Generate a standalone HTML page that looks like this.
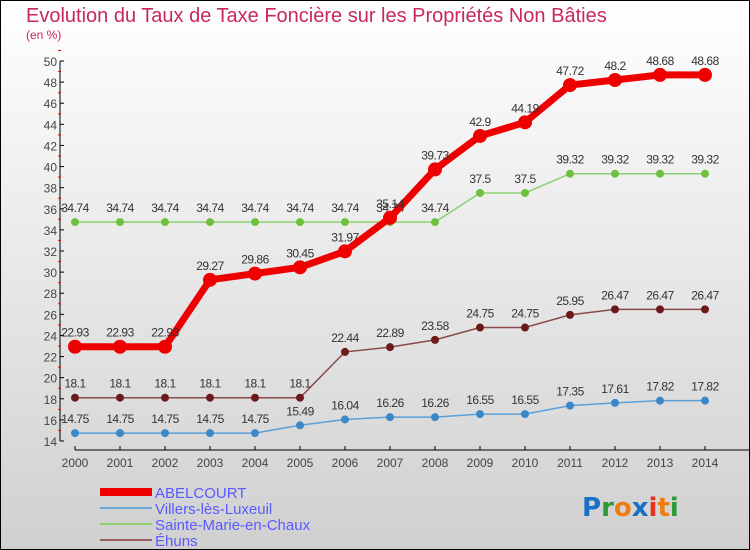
<!DOCTYPE html>
<html><head><meta charset="utf-8"><style>
body{margin:0;width:750px;height:550px;overflow:hidden}
svg{display:block;font-family:"Liberation Sans",sans-serif}
</style></head><body>
<svg id="c" width="750" height="550">
<defs><linearGradient id="bg" x1="0" y1="0" x2="0" y2="1"><stop offset="0" stop-color="#ffffff"/><stop offset="1" stop-color="#d0d0d0"/></linearGradient></defs>
<rect x="0.5" y="0.5" width="749" height="549" fill="url(#bg)" stroke="#000"/>
<text x="26" y="22" font-size="20" fill="#c8285a">Evolution du Taux de Taxe Foncière sur les Propriétés Non Bâties</text>
<text x="26" y="39" font-size="12" fill="#c8285a">(en %)</text>
<g id="axes"></g><g id="series"></g><g id="legend"></g>
<g font-size="26" font-weight="bold" font-family="DejaVu Sans,sans-serif">
<text x="582" y="516"><tspan fill="#1a6fc8">P</tspan><tspan fill="#2a9a3a">r</tspan><tspan fill="#f07c10">o</tspan><tspan fill="#1a6fc8">x</tspan><tspan fill="#e83020">i</tspan><tspan fill="#f07c10">t</tspan><tspan fill="#2a9a3a">i</tspan></text></g>
</svg>
<script>
const years=[2000,2001,2002,2003,2004,2005,2006,2007,2008,2009,2010,2011,2012,2013,2014];
const abelcourt=[22.93,22.93,22.93,29.27,29.86,30.45,31.97,35.14,39.73,42.9,44.19,47.72,48.2,48.68,48.68];
const villers=[14.75,14.75,14.75,14.75,14.75,15.49,16.04,16.26,16.26,16.55,16.55,17.35,17.61,17.82,17.82];
const sainte=[34.74,34.74,34.74,34.74,34.74,34.74,34.74,34.74,34.74,37.5,37.5,39.32,39.32,39.32,39.32];
const ehuns=[18.1,18.1,18.1,18.1,18.1,18.1,22.44,22.89,23.58,24.75,24.75,25.95,26.47,26.47,26.47];
const yTicks=[14,16,18,20,22,24,26,28,30,32,34,36,38,40,42,44,46,48,50];
const NS="http://www.w3.org/2000/svg";
const X=i=>75+i*45, Y=v=>441-(v-14)*(380/36);
function mk(t,a,p){const e=document.createElementNS(NS,t);for(const k in a)e.setAttribute(k,a[k]);p.appendChild(e);return e;}
const ax=document.getElementById('axes');
let yl=mk('line',{x1:60,y1:Y(50),x2:60,y2:Y(14),stroke:'#000'},ax);


yTicks.forEach(v=>{
 mk('line',{x1:60,y1:Y(v),x2:64,y2:Y(v),stroke:'#000'},ax);
 mk('line',{x1:58,y1:Y(v+1),x2:61,y2:Y(v+1),stroke:'#e00'},ax);
 const t=mk('text',{x:57,y:Y(v)+5,'font-size':12,fill:'#444','text-anchor':'end'},ax);t.textContent=v;
 
 
});
let xl=mk('line',{x1:75,y1:450,x2:750,y2:450,stroke:'#000'},ax);


years.forEach((y,i)=>{
 mk('line',{x1:X(i),y1:446,x2:X(i),y2:450,stroke:'#000'},ax);
 const t=mk('text',{x:X(i),y:467,'font-size':12,fill:'#444','text-anchor':'middle'},ax);t.textContent=y;
 
 
});
const sg=document.getElementById('series');
const defs=[
 {d:ehuns,c:'#8b4a4a',m:'#6b1a1a',w:1.5,r:4,n:'ehuns'},
 {d:villers,c:'#5aa0d8',m:'#3a88c8',w:1.5,r:4,n:'villers'},
 {d:sainte,c:'#8ad070',m:'#70c040',w:1.5,r:4,n:'sainte-marie'},
 {d:abelcourt,c:'#ee0000',m:'#ee0000',w:7,r:7,n:'abelcourt'}];
defs.forEach(s=>{
 const g=mk('g',{},sg);
 
 
 mk('polyline',{points:s.d.map((v,i)=>X(i)+','+Y(v)).join(' '),fill:'none',stroke:s.c,'stroke-width':s.w},g);
 s.d.forEach((v,i)=>{
  const c=mk('circle',{cx:X(i),cy:Y(v),r:s.r,fill:s.m},g);
  
  
  const t=mk('text',{x:X(i),y:Y(v)-10,'font-size':12,fill:'#333','text-anchor':'middle','letter-spacing':'-0.5'},g);t.textContent=v;
  
  
 });
});
const lg=document.getElementById('legend');
[['ABELCOURT','#ee0000',8],['Villers-lès-Luxeuil','#6aa8d8',2],['Sainte-Marie-en-Chaux','#90d070',2],['Éhuns','#9a6060',2]].forEach((e,i)=>{
 const y=492+i*16;
 const g=mk('g',{},lg);
 
 
 mk('line',{x1:100,y1:y,x2:152,y2:y,stroke:e[1],'stroke-width':e[2]},g);
 const t=mk('text',{x:155,y:y+6,'font-size':15,fill:'#5a5aff'},g);t.textContent=e[0];
});
</script>
</body></html>
